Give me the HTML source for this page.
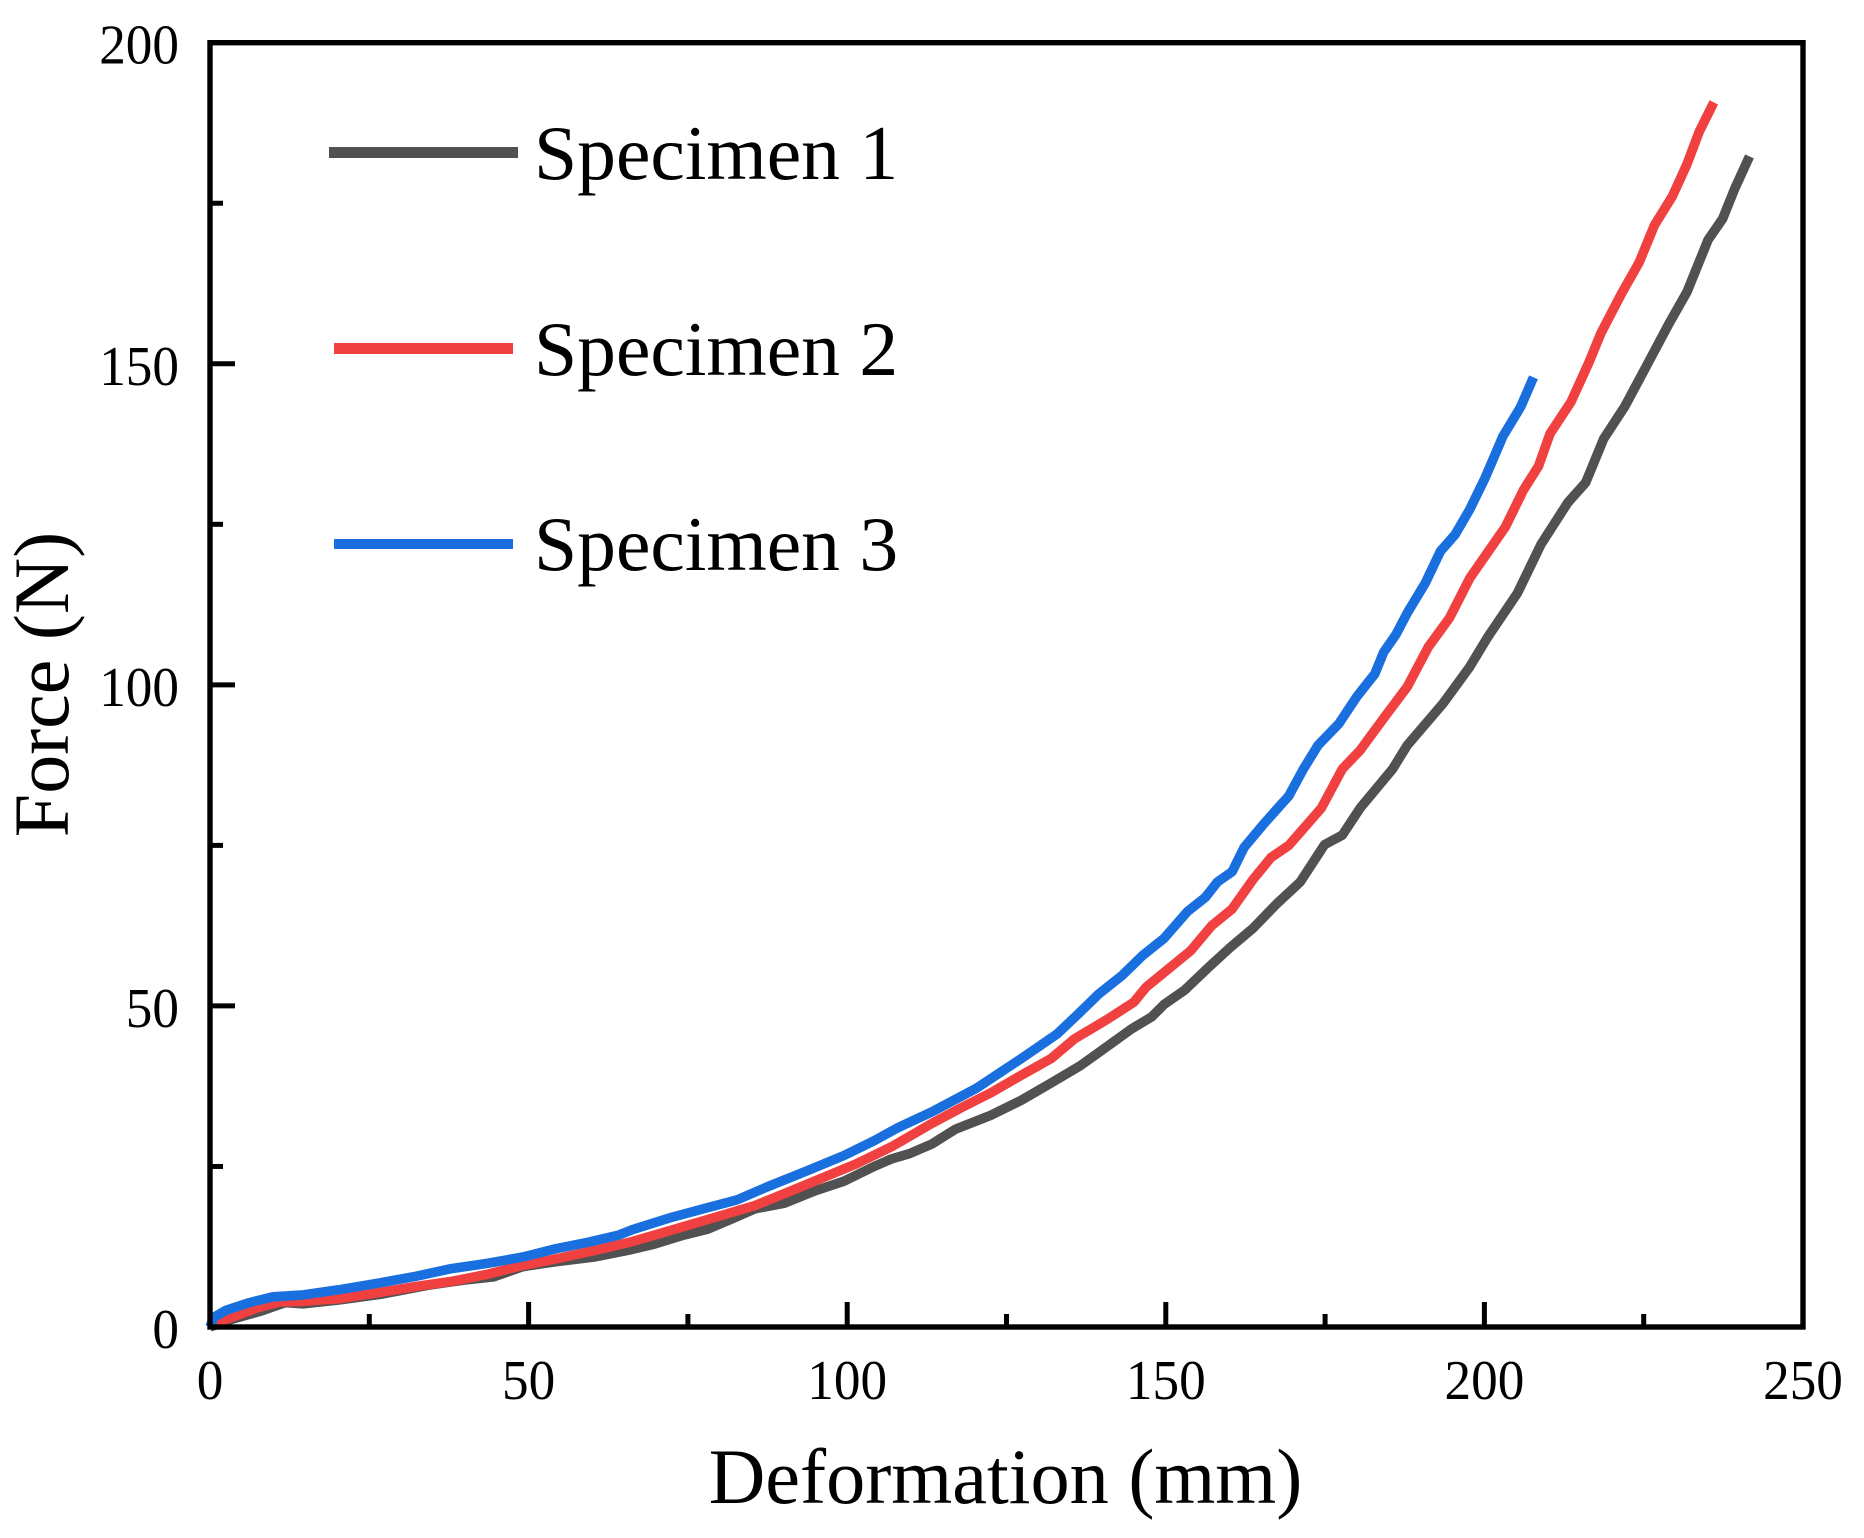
<!DOCTYPE html>
<html lang="en">
<head>
<meta charset="utf-8">
<title>Force vs Deformation</title>
<style>
html,body{margin:0;padding:0;background:#fff;width:1864px;height:1538px;overflow:hidden}
svg{display:block}
text{font-family:"Liberation Serif","Times New Roman",serif;fill:#000}
</style>
</head>
<body>
<svg id="chart" xmlns="http://www.w3.org/2000/svg" width="1864" height="1538" viewBox="0 0 1864 1538">
  <rect x="0" y="0" width="1864" height="1538" fill="#fff"/>
  <g id="series"></g>
  <rect x="210" y="42.7" width="1593" height="1284.3" fill="none" stroke="#000" stroke-width="5.4"/>
  <g id="ticks"></g>
  <text x="1005.5" y="1503" font-size="78.3" text-anchor="middle">Deformation (mm)</text>
  <text transform="translate(68,684.5) rotate(-90)" font-size="78" text-anchor="middle">Force (N)</text>
  <g>
    <rect x="329" y="147" width="189" height="11" fill="#515151"/>
    <text x="534" y="179" font-size="77.6">Specimen 1</text>
    <rect x="334" y="343" width="179" height="11" fill="#F14040"/>
    <text x="534" y="375" font-size="77.6">Specimen 2</text>
    <rect x="334" y="539" width="179" height="10" fill="#1A6FDF"/>
    <text x="534" y="570" font-size="77.6">Specimen 3</text>
  </g>
</svg>
<script>
const specimen1X = [0,3.4,8.1,11.8,14.6,20.2,26.8,34.2,39.8,44.5,49.1,53.8,60.3,65.9,69.7,74.3,78,82.3,85.5,90.2,94.9,99.5,104.2,107,109.8,113.3,117,122.6,127.3,132,136.6,140.4,144.6,147.8,149.7,153,156.7,160,163.7,167.4,171.1,174.9,177.7,180.5,185.6,187.9,193.5,197.7,200.5,205.2,208.9,213.1,215.9,218.7,222,225.3,229,231.8,235.1,237.4,239.3,241.6];
const specimen1Y = [0,1.2,2.5,3.8,3.6,4.2,5.1,6.5,7.3,7.8,9.4,10.1,10.9,12,12.9,14.3,15.2,17,18.4,19.3,21.2,22.7,25,26.2,27,28.5,30.8,33,35.3,38,40.7,43.4,46.4,48.3,50.2,52.5,56,59,62.1,65.9,69.3,75.1,76.6,80.8,86.9,90.6,97.1,102.8,107.4,114.3,121.9,128.4,131.5,138.3,143.3,149.4,156.3,161.2,169.3,172.6,177.3,182.3];

const specimen2X = [0,0.6,3.4,7.2,10.9,14.6,20.2,26.8,32.3,37.9,43.5,49.1,53.8,60.3,65.9,72.5,79,85.5,90.2,95.8,101.4,107,113.3,118,122.6,127.3,132,135.7,140.8,145,146.9,150.2,153.9,157.2,160.4,163.7,166.5,169.3,174.4,177.7,180.5,184.2,187.9,191.2,194.5,197.7,203.3,206.1,208.5,210.3,213.6,216.4,218.3,221.5,224.3,226.7,229.5,231.8,233.7,236];
const specimen2Y = [0,0.6,1.5,2.9,3.9,4,4.4,5.4,6.3,7.1,8.2,9.6,10.5,11.9,13.2,15.1,17,18.9,20.8,23.1,25.4,28.1,31.7,34.2,36.5,39.2,41.8,44.9,47.9,50.6,52.9,55.6,58.6,62.5,65.1,69.7,73.1,75,80.8,86.9,89.8,94.8,99.7,105.9,110.4,116.6,124.6,130.3,134.1,139.1,144.1,150.2,154.8,160.9,165.8,171.6,176.1,181.1,186.1,190.7];

const specimen3X = [0,0.6,2.5,6.2,9.9,14.6,20.2,26.8,32.3,37.9,43.5,49.1,54.3,59.4,64.1,66.4,72.5,78.1,82.7,87.4,93.9,99.5,104.2,107.9,113.3,120.3,127.3,132.9,136.2,139.4,143.2,146.4,149.7,153.4,156.2,158.1,160.4,162.3,165.5,169.3,171.6,173.9,177.2,180,182.8,184.2,186.1,187.9,190.7,193.1,195.4,197.7,200.1,202.9,205.7,207.7];
const specimen3Y = [0,1.5,2.6,3.8,4.7,5,5.8,6.9,7.9,9.1,9.9,10.9,12.2,13.2,14.3,15.2,17.1,18.6,19.8,21.8,24.4,26.7,29,31,33.5,37.2,41.8,45.6,48.7,51.8,54.8,57.9,60.5,64.7,66.9,69.3,70.9,74.7,78.5,82.7,86.9,90.6,94,98.2,101.7,105.1,107.8,111.2,115.8,120.8,123.4,127.3,132.2,138.7,143.3,147.9];

const xMajorTicks = [0,50,100,150,200,250];
const xMinorTicks = [25,75,125,175,225];
const yMajorTicks = [0,50,100,150,200];
const yMinorTicks = [25,75,125,175];

const X0 = 210, X1 = 1803, Y0 = 1327, Y1 = 42.7;
function xScale(v){ return X0 + v / 250 * (X1 - X0); }
function yScale(v){ return Y0 - v / 200 * (Y0 - Y1); }
const NS = 'http://www.w3.org/2000/svg';

function drawLine(xs, ys, color, name){
  const el = document.createElementNS(NS, 'polyline');
  el.setAttribute('points', xs.map(function(x, i){ return xScale(x).toFixed(1) + ',' + yScale(ys[i]).toFixed(1); }).join(' '));
  el.setAttribute('fill', 'none');
  el.setAttribute('stroke', color);
  el.setAttribute('stroke-width', '9.6');
  el.setAttribute('stroke-linejoin', 'round');
  
  
  document.getElementById('series').appendChild(el);
}
drawLine(specimen1X, specimen1Y, '#515151', 'line-specimen-1');
drawLine(specimen2X, specimen2Y, '#F14040', 'line-specimen-2');
drawLine(specimen3X, specimen3Y, '#1A6FDF', 'line-specimen-3');

const tickGroup = document.getElementById('ticks');
function addTick(x1, y1, x2, y2, name){
  const t = document.createElementNS(NS, 'line');
  t.setAttribute('x1', x1);
  t.setAttribute('y1', y1);
  t.setAttribute('x2', x2);
  t.setAttribute('y2', y2);
  t.setAttribute('stroke', '#000');
  t.setAttribute('stroke-width', '5');
  
  
  tickGroup.appendChild(t);
}
function addLabel(x, y, str, anchor, name){
  const t = document.createElementNS(NS, 'text');
  t.setAttribute('transform', 'translate(' + x + ',' + y + ') scale(0.95,1)');
  t.setAttribute('font-size', '56');
  t.setAttribute('text-anchor', anchor);
  t.textContent = str;
  
  
  tickGroup.appendChild(t);
}
xMajorTicks.forEach(function(v){
  const x = xScale(v);
  if (v > 0 && v < 250) addTick(x, Y0, x, Y0 - 25, 'x-major-tick');
  addLabel(x, 1399, String(v), 'middle', 'x-tick-label');
});
xMinorTicks.forEach(function(v){
  const x = xScale(v);
  addTick(x, Y0, x, Y0 - 13, 'x-minor-tick');
});
yMajorTicks.forEach(function(v){
  const y = yScale(v);
  if (v > 0 && v < 200) addTick(X0, y, X0 + 25, y, 'y-major-tick');
  addLabel(179, y + 21, String(v), 'end', 'y-tick-label');
});
yMinorTicks.forEach(function(v){
  const y = yScale(v);
  addTick(X0, y, X0 + 13, y, 'y-minor-tick');
});
</script>
</body>
</html>
